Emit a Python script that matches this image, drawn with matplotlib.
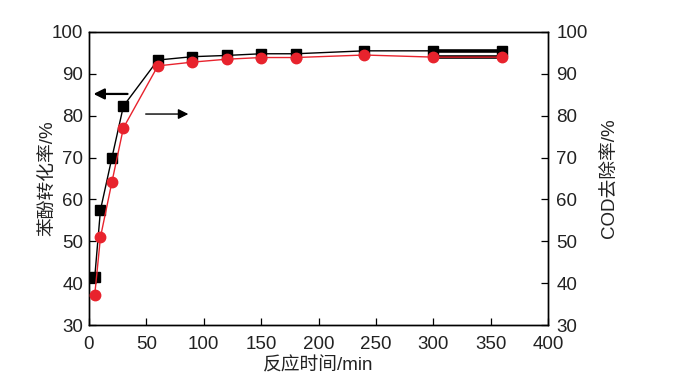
import matplotlib
matplotlib.use("Agg")
import matplotlib.pyplot as plt

plt.rcParams['font.family'] = ['Liberation Sans', 'Noto Sans CJK SC', 'DejaVu Sans']

time_min = [5, 10, 20, 30, 60, 90, 120, 150, 180, 240, 300, 360]
phenol_conv = [41.4, 57.5, 70.0, 82.3, 93.3, 94.1, 94.4, 94.8, 94.8, 95.5, 95.5, 95.5]
cod_removal = [37.2, 51.0, 64.2, 77.1, 91.9, 92.8, 93.5, 93.9, 93.9, 94.5, 94.0, 94.0]
xticks = [0, 50, 100, 150, 200, 250, 300, 350, 400]
yticks = [30, 40, 50, 60, 70, 80, 90, 100]

fig = plt.figure(figsize=(6.95, 3.91), dpi=100)
ax = fig.add_axes([89/695, 1-325/391, (548-89)/695, (325-32)/391])
ax2 = ax.twinx()

red = '#e8232d'
ax2.plot(time_min, cod_removal, color=red, lw=1.0, marker='o', ms=7.5, mec=red, mfc=red, zorder=3)
ax.plot(time_min, phenol_conv, color='black', lw=1.0, marker='s', ms=7, zorder=3)
# thick segments at the end, as in reference
ax.plot(time_min[-2:], phenol_conv[-2:], color='black', lw=2.6, zorder=4)
ax.plot(time_min[-2:], cod_removal[-2:], color='black', lw=2.6, zorder=4)

ax.set_xlim(0, 400)
ax.set_ylim(30, 100)
ax2.set_ylim(30, 100)
ax.set_xticks(xticks)
ax.set_yticks(yticks)
ax2.set_yticks(yticks)

for a in (ax, ax2):
    a.tick_params(direction='in', length=5, width=0.9, labelsize=13.5, colors='black', labelcolor='#222222')
    for s in a.spines.values():
        s.set_linewidth(1.0)
ax.tick_params(axis='x', pad=8)
ax.tick_params(axis='y', pad=4)
ax2.tick_params(axis='y', pad=6)
ax.tick_params(top=False)

ax.set_xlabel('反应时间/min', fontsize=13.5, labelpad=3, color='#222222')
ax.set_ylabel('苯酚转化率/%', fontsize=13.5, labelpad=-4, color='#222222')
ax2.set_ylabel('COD去除率/%', fontsize=13.5, labelpad=10, color='#222222')

ax.annotate('', xy=(1.5, 85.2), xytext=(36, 85.2),
            arrowprops=dict(arrowstyle='-|>', color='black', lw=1.6, mutation_scale=16))
ax.annotate('', xy=(89, 80.4), xytext=(47, 80.4),
            arrowprops=dict(arrowstyle='-|>', color='black', lw=1.0, mutation_scale=15))

fig.savefig('out.png', dpi=100)
